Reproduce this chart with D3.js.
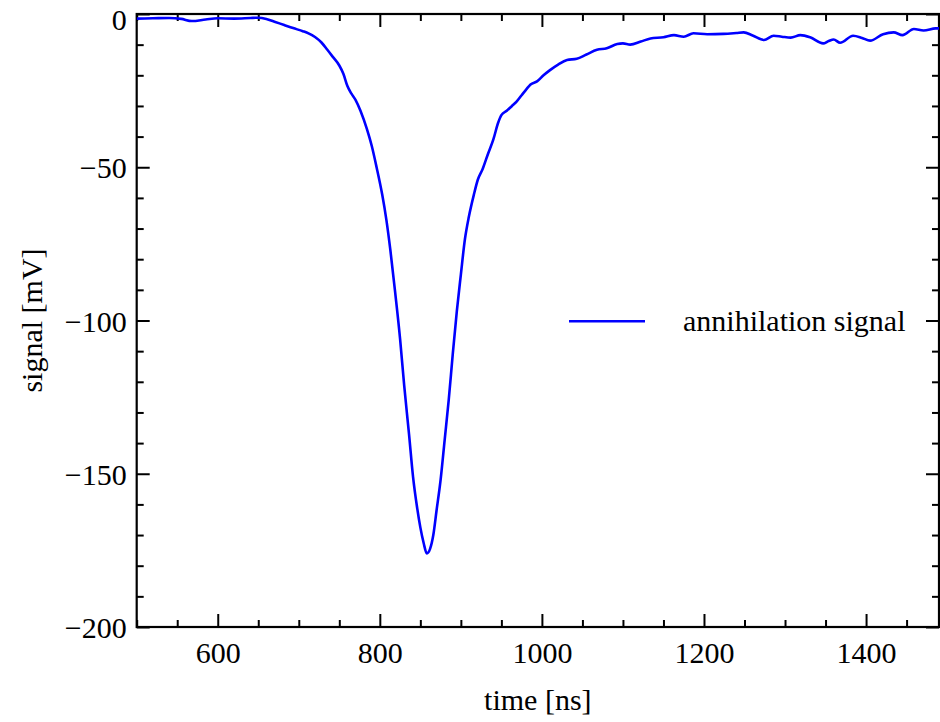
<!DOCTYPE html>
<html>
<head>
<meta charset="utf-8">
<script src="https://cdn.jsdelivr.net/npm/d3@7"></script>
<style>
  html, body { margin: 0; padding: 0; background: #fff; }
  svg { display: block; }
  text { font-family: "Liberation Serif", "Times New Roman", serif; fill: #000; }
</style>
</head>
<body>
<svg id="chart" width="940" height="722"></svg>
<script>
// Annihilation pulse recorded on the scope: time in ns, signal in mV
const timeNs = [
  500, 520, 540, 555, 568, 585, 600, 620, 640, 650, 660, 670, 682, 693, 705, 712,
  720, 728, 735, 742, 750, 755, 760, 765, 770, 776, 784, 790, 796, 803, 808, 813,
  819, 825, 830, 836, 841, 846, 850, 854, 858, 862, 866, 870, 875, 880, 885, 890,
  895, 900, 905, 910, 916, 921, 927, 933, 940, 946, 950, 957, 963, 969, 975, 981,
  986, 994, 1002, 1010, 1020, 1031, 1043, 1055, 1068, 1080, 1093, 1100, 1109, 1122,
  1134, 1150, 1163, 1175, 1187, 1204, 1224, 1240, 1249, 1260, 1274, 1286, 1296, 1307,
  1319, 1331, 1347, 1354, 1360, 1368, 1384, 1395, 1405, 1421, 1434, 1445, 1459, 1471,
  1486, 1490
];
const signalMv = [
  -1.5, -1.4, -1.3, -1.6, -2.3, -1.8, -1.4, -1.5, -1.3, -1.2, -1.6, -2.5, -3.6, -4.6, -5.6, -6.3,
  -7.5, -9.3, -11.6, -14, -16.8, -19.5, -23.5, -26, -28, -31.5, -37.5, -43, -50, -59, -67, -77,
  -91, -106, -121, -137, -151, -161, -167.5, -172.5, -176, -174.5, -170, -162, -152, -139, -126, -111,
  -97, -85, -73.5, -66, -59, -54, -50.5, -46, -41, -35.5, -33, -31.5, -30, -28.5, -26.5, -24.5,
  -23, -22, -20, -18.3, -16.5, -15, -14.6, -13.2, -11.7, -11.2, -9.8, -9.6, -10, -9,
  -8, -7.6, -6.9, -7.4, -6.3, -6.6, -6.5, -6.2, -6, -7, -8.5, -7.1, -7.4, -7.7,
  -6.9, -7.6, -9.6, -8.8, -8.3, -9.4, -7.1, -7.8, -8.7, -6.6, -6, -6.9, -4.9, -5.4,
  -4.7, -4.7
];

const xMajorTicks = [600, 800, 1000, 1200, 1400];
const yMajorTicks = [0, -50, -100, -150, -200];
const seriesName = "annihilation signal";
const xTitle = "time [ns]";
const yTitle = "signal [mV]";

const points = timeNs.map((t, i) => ({ t, v: signalMv[i] }));

const svg = d3.select("#chart");
const plotLeft = 136.7, plotRight = 939, plotTop = 14, plotBottom = 627;

const x = d3.scaleLinear().domain([500, 1490]).range([plotLeft, plotRight]);
const y = d3.scaleLinear().domain([-200, 0]).range([plotBottom, plotTop]);

const xMinor = d3.range(500, 1491, 50).filter(v => !xMajorTicks.includes(v));
const yMinor = d3.range(-200, 1, 10).filter(v => !yMajorTicks.includes(v));

const majorLen = 13, minorLen = 7;
const fmt = d3.format("d");

// Bottom axis (labelled), ticks pointing inward
const gBottom = svg.append("g").attr("transform", `translate(0,${plotBottom})`);
gBottom.call(d3.axisBottom(x).tickValues(xMajorTicks).tickSize(-majorLen).tickFormat(fmt));
gBottom.append("g").call(d3.axisBottom(x).tickValues(xMinor).tickSize(-minorLen).tickFormat(""));

// Top axis, ticks only
const gTop = svg.append("g").attr("transform", `translate(0,${plotTop})`);
gTop.call(d3.axisTop(x).tickValues(xMajorTicks).tickSize(-majorLen).tickFormat(""));
gTop.append("g").call(d3.axisTop(x).tickValues(xMinor).tickSize(-minorLen).tickFormat(""));

// Left axis (labelled)
const gLeft = svg.append("g").attr("transform", `translate(${plotLeft},0)`);
gLeft.call(d3.axisLeft(y).tickValues(yMajorTicks).tickSize(-majorLen).tickFormat(fmt));
gLeft.append("g").call(d3.axisLeft(y).tickValues(yMinor).tickSize(-minorLen).tickFormat(""));

// Right axis, ticks only
const gRight = svg.append("g").attr("transform", `translate(${plotRight},0)`);
gRight.call(d3.axisRight(y).tickValues(yMajorTicks).tickSize(-majorLen).tickFormat(""));
gRight.append("g").call(d3.axisRight(y).tickValues(yMinor).tickSize(-minorLen).tickFormat(""));

svg.selectAll(".domain").attr("stroke", "none");
svg.selectAll(".tick line").attr("stroke", "#000").attr("stroke-width", 2);
svg.selectAll(".tick text")
  .style("font-family", '"Liberation Serif", serif')
  .style("font-size", "30px")
  .attr("fill", "#000");
gBottom.selectAll(".tick text").attr("y", 15).attr("dy", "0.71em");
gLeft.selectAll(".tick text")
  .attr("x", -10)
  .attr("dy", "0.32em")
  // the top label sits a little lower so it stays inside the page
  .attr("y", d => d === 0 ? 5.5 : 1);

// Plot frame
svg.append("rect")
  .attr("x", plotLeft).attr("y", plotTop)
  .attr("width", plotRight - plotLeft).attr("height", plotBottom - plotTop)
  .attr("fill", "none").attr("stroke", "#000").attr("stroke-width", 2.2);

// Signal trace
const line = d3.line()
  .x(d => x(d.t))
  .y(d => y(d.v))
  .curve(d3.curveMonotoneX);

svg.append("defs").append("clipPath").attr("id", "plotClip")
  .append("rect").attr("x", plotLeft).attr("y", plotTop - 2)
  .attr("width", plotRight - plotLeft).attr("height", plotBottom - plotTop + 4);

svg.append("path")
  .datum(points)
  .attr("clip-path", "url(#plotClip)")
  .attr("fill", "none")
  .attr("stroke", "#0000ff")
  .attr("stroke-width", 2.6)
  .attr("stroke-linejoin", "round")
  .attr("d", line);

// Legend
const legendY = y(-100);
svg.append("line")
  .attr("x1", 569).attr("x2", 645)
  .attr("y1", legendY + 0.7).attr("y2", legendY + 0.7)
  .attr("stroke", "#0000ff").attr("stroke-width", 2.5);
svg.append("text")
  .attr("x", 683).attr("y", legendY).attr("dy", "0.35em")
  .style("font-size", "30px")
  .text(seriesName);

// Axis titles
svg.append("text")
  .attr("x", (plotLeft + plotRight) / 2).attr("y", 710)
  .attr("text-anchor", "middle")
  .style("font-size", "30px")
  .text(xTitle);

svg.append("text")
  .attr("transform", `translate(42,${(plotTop + plotBottom) / 2}) rotate(-90)`)
  .attr("text-anchor", "middle")
  .style("font-size", "30px")
  .text(yTitle);
</script>
</body>
</html>
